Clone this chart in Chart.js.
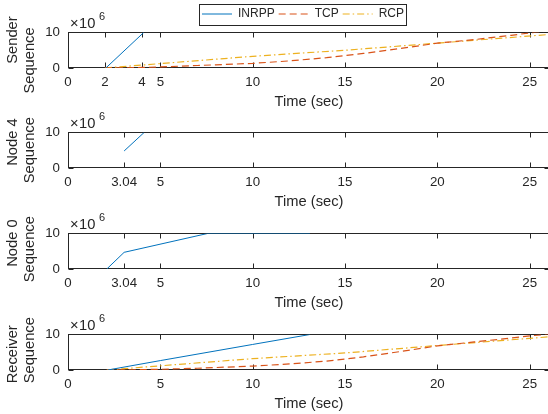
<!DOCTYPE html>
<html>
<head>
<meta charset="utf-8">
<script src="https://cdn.jsdelivr.net/npm/chart.js@4/dist/chart.umd.min.js"></script>
<style>
html,body{margin:0;padding:0;background:#fff;}
body{position:relative;width:548px;height:414px;overflow:hidden;}
canvas{position:absolute;left:0;}
</style>
</head>
<body>
<canvas id="c1" width="556" height="120" style="top:0px"></canvas>
<canvas id="c2" width="556" height="120" style="top:100px"></canvas>
<canvas id="c3" width="556" height="120" style="top:201px"></canvas>
<canvas id="c4" width="556" height="120" style="top:302px"></canvas>
<canvas id="lg" width="240" height="40" style="left:183px;top:4px"></canvas>
<script>
// ---------- data ----------
const seriesNames = ['INRPP', 'TCP', 'RCP'];

const senderTicks = [0, 2, 4, 5, 10, 15, 20, 25];
const nodeTicks = [0, 3.04, 5, 10, 15, 20, 25];
const receiverTicks = [0, 5, 10, 15, 20, 25];
const seqTicks = [0, 5e6, 10e6];

const senderInrppTime = [2.05, 4.1];
const senderInrppSeq = [0, 10e6];
const senderTcpTime = [2, 3, 4, 5, 6, 7, 8, 10, 12, 14, 16, 18, 20, 22, 24, 25, 26.2];
const senderTcpSeq = [0, 0.05e6, 0.15e6, 0.3e6, 0.5e6, 0.7e6, 0.9e6, 1.3e6, 2.0e6, 2.9e6, 4.1e6, 5.5e6, 7.0e6, 8.0e6, 9.2e6, 9.9e6, 10.5e6];
const senderRcpTime = [2, 10, 15, 20, 26.2];
const senderRcpSeq = [0, 3.3e6, 5.0e6, 7.0e6, 9.5e6];

const node4InrppTime = [3.04, 4.12];
const node4InrppSeq = [4.8e6, 10e6];

const node0InrppTime = [2.1, 3.04, 7.55, 13.1];
const node0InrppSeq = [0, 4.7e6, 10e6, 10e6];

const receiverInrppTime = [2.15, 5, 10, 13.1];
const receiverInrppSeq = [0, 2.65e6, 7.2e6, 10e6];
const receiverTcpTime = [2.1, 3, 4, 5, 6, 7, 8, 10, 12, 14, 16, 18, 20, 22, 24, 25, 26.2];
const receiverTcpSeq = [0, 0.03e6, 0.1e6, 0.2e6, 0.35e6, 0.5e6, 0.7e6, 1.1e6, 1.7e6, 2.5e6, 3.7e6, 5.2e6, 6.8e6, 7.9e6, 9.0e6, 9.6e6, 10.2e6];
const receiverRcpTime = [2.1, 10, 15, 20, 26.2];
const receiverRcpSeq = [0, 3.2e6, 4.8e6, 6.9e6, 9.4e6];

// ---------- styles ----------
const FONT = '"Liberation Sans", Arial, Helvetica, sans-serif';
const AX = '#262626';
const STYLE = {
  INRPP: {borderColor: '#0072BD', borderWidth: 1, borderDash: []},
  TCP:   {borderColor: '#D95319', borderWidth: 1.2, borderDash: [7, 4]},
  RCP:   {borderColor: '#EDB120', borderWidth: 1.2, borderDash: [7, 3, 1.5, 3]}
};
Chart.defaults.font.family = FONT;
Chart.defaults.color = AX;

function series(name, times, seqs) {
  return Object.assign({
    label: name,
    data: times.map((t, i) => ({x: t, y: seqs[i]})),
    showLine: true,
    pointRadius: 0,
    fill: false,
    tension: 0
  }, STYLE[name]);
}

const axesPlugin = {
  id: 'matlabAxes',
  beforeDatasetsDraw(chart) {
    const {ctx, chartArea: a, scales: {x, y}} = chart;
    ctx.save();
    ctx.strokeStyle = AX;
    ctx.lineWidth = 1;
    const L = a.left + 0.5, R = a.right - 0.5;
    const T = a.top, B = a.bottom - 0.5;
    ctx.strokeRect(L, T, R - L, B - T);
    ctx.beginPath();
    x.ticks.forEach(t => {
      const px = Math.round(x.getPixelForValue(t.value)) + 0.5;
      ctx.moveTo(px, B); ctx.lineTo(px, B - 5);
      ctx.moveTo(px, T); ctx.lineTo(px, T + 5);
    });
    y.ticks.forEach(t => {
      const py = Math.floor(y.getPixelForValue(t.value)) + 0.5;
      ctx.moveTo(L, py); ctx.lineTo(L + 5, py);
      ctx.moveTo(R, py); ctx.lineTo(R - 5, py);
    });
    ctx.stroke();
    // exponent label (x 10^6)
    ctx.fillStyle = AX;
    ctx.textBaseline = 'alphabetic';
    ctx.textAlign = 'left';
    ctx.font = '14.7px ' + FONT;
    ctx.fillText('\u00d7', a.left + 2, a.top - 5);
    ctx.fillText('10', a.left + 11, a.top - 5);
    ctx.font = '11px ' + FONT;
    ctx.fillText('6', a.left + 31, a.top - 13);
    ctx.restore();
  }
};

function makeChart(id, xTicks, datasets, yTitle) {
  return new Chart(document.getElementById(id), {
    type: 'scatter',
    data: {datasets},
    options: {
      responsive: false,
      animation: false,
      devicePixelRatio: 1,
      layout: {padding: {top: 32.5, right: 6, left: 0, bottom: 0}},
      plugins: {legend: {display: false}, tooltip: {enabled: false}},
      scales: {
        x: {
          type: 'linear', min: 0, max: 26.1, bounds: 'data',
          afterBuildTicks: ax => { ax.ticks = xTicks.map(v => ({value: v})); },
          afterFit: ax => { ax.height = 52; },
          grid: {display: false, drawTicks: false},
          border: {display: false},
          ticks: {padding: 6, autoSkip: false, maxRotation: 0, color: AX,
                  font: {size: 13.3, family: FONT}, callback: v => String(v)},
          title: {display: true, text: 'Time (sec)', color: AX,
                  font: {size: 14.7, family: FONT, lineHeight: 1.15},
                  padding: {top: 0, bottom: 10}}
        },
        y: {
          type: 'linear', min: 0, max: 10e6, bounds: 'data',
          afterBuildTicks: ax => { ax.ticks = seqTicks.map(v => ({value: v})); },
          afterFit: ax => { ax.width = 68; },
          grid: {display: false, drawTicks: false},
          border: {display: false},
          ticks: {padding: 8, color: AX, font: {size: 13.3, family: FONT},
                  callback: v => String(v / 1e6)},
          title: {display: true, text: yTitle, color: AX,
                  font: {size: 14.7, family: FONT, lineHeight: 1.15},
                  padding: {top: 4.5, bottom: 0}}
        }
      }
    },
    plugins: [axesPlugin]
  });
}

makeChart('c1', senderTicks, [
  series('INRPP', senderInrppTime, senderInrppSeq),
  series('TCP', senderTcpTime, senderTcpSeq),
  series('RCP', senderRcpTime, senderRcpSeq)
], ['     Sender', 'Sequence     ']);

makeChart('c2', nodeTicks, [
  series('INRPP', node4InrppTime, node4InrppSeq)
], ['    Node 4', 'Sequence']);

makeChart('c3', nodeTicks, [
  series('INRPP', node0InrppTime, node0InrppSeq)
], ['    Node 0', ' Sequence']);

makeChart('c4', receiverTicks, [
  series('INRPP', receiverInrppTime, receiverInrppSeq),
  series('TCP', receiverTcpTime, receiverTcpSeq),
  series('RCP', receiverRcpTime, receiverRcpSeq)
], ['Receiver ', ' Sequence']);

// ---------- legend ----------
const FRAME = {x: 16, w: 208, h: 22};
const framePlugin = {
  id: 'legendFrame',
  beforeDraw(chart) {
    const ctx = chart.ctx;
    ctx.save();
    ctx.fillStyle = '#fff';
    ctx.fillRect(FRAME.x, 0, FRAME.w, FRAME.h);
    ctx.restore();
  },
  afterDraw(chart) {
    const ctx = chart.ctx;
    ctx.save();
    ctx.strokeStyle = AX;
    ctx.lineWidth = 1;
    ctx.strokeRect(FRAME.x + 0.5, 0.5, FRAME.w - 1, FRAME.h - 1);
    ctx.restore();
  }
};

new Chart(document.getElementById('lg'), {
  type: 'scatter',
  data: {datasets: seriesNames.map(n => series(n, [], []))},
  options: {
    responsive: false,
    animation: false,
    devicePixelRatio: 1,
    layout: {padding: 0},
    scales: {x: {display: false}, y: {display: false}},
    plugins: {
      tooltip: {enabled: false},
      legend: {
        display: true,
        position: 'top',
        labels: {
          usePointStyle: true,
          pointStyle: 'line',
          pointStyleWidth: 30,
          padding: 4,
          color: AX,
          font: {size: 12, family: FONT},
          generateLabels: chart => chart.data.datasets.map((ds, i) => ({
            text: ds.label,
            fillStyle: ds.borderColor,
            strokeStyle: ds.borderColor,
            lineWidth: ds.borderWidth,
            lineDash: ds.borderDash,
            pointStyle: 'line',
            hidden: false,
            datasetIndex: i,
            fontColor: AX
          }))
        }
      }
    }
  },
  plugins: [framePlugin]
});
</script>
</body>
</html>
